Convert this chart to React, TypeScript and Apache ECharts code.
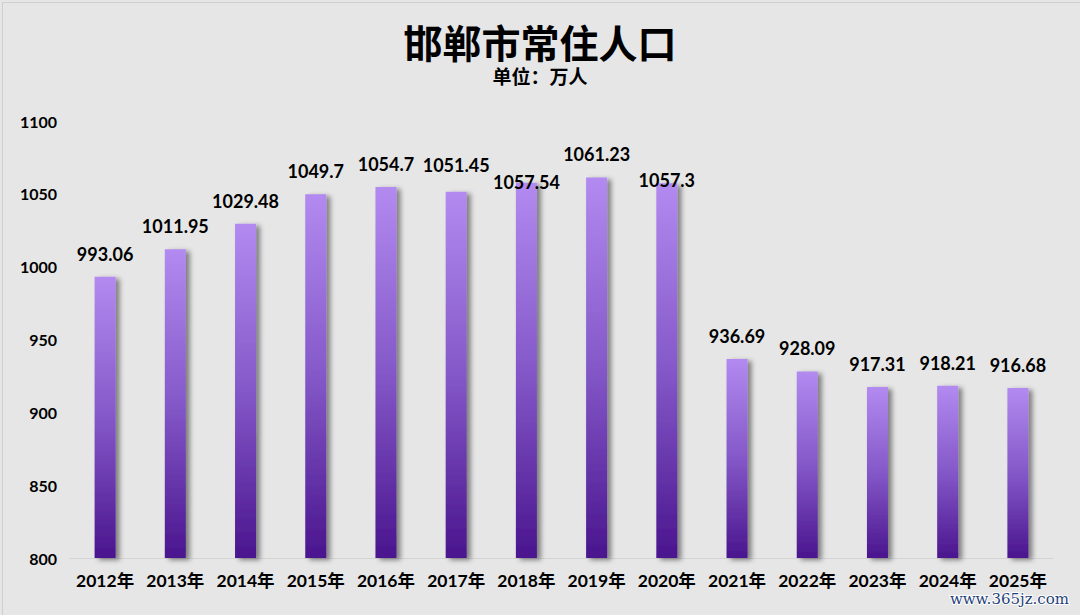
import React, { useEffect, useRef } from "react";
import * as echarts from "echarts";

const categories = ["2012年", "2013年", "2014年", "2015年", "2016年", "2017年", "2018年", "2019年", "2020年", "2021年", "2022年", "2023年", "2024年", "2025年"];
const values = [993.06, 1011.95, 1029.48, 1049.7, 1054.7, 1051.45, 1057.54, 1061.23, 1057.3, 936.69, 928.09, 917.31, 918.21, 916.68];
const labelTexts = ["993.06", "1011.95", "1029.48", "1049.7", "1054.7", "1051.45", "1057.54", "1061.23", "1057.3", "936.69", "928.09", "917.31", "918.21", "916.68"];
const labelOffsets = [0, 0, 0, 0, 0, -4, 22, 0, 20, 0, 0, 0, 0, 0];
const yTicks = [800, 850, 900, 950, 1000, 1050, 1100];
const titleText = "邯郸市常住人口";
const subtitleText = "单位：万人";
const watermark = "www.365jz.com";

const FONT = "Lato, 'Noto Sans CJK SC', sans-serif";

export default function App() {
  const ref = useRef<HTMLDivElement>(null);
  useEffect(() => {
    if (!ref.current) return;
    const chart = echarts.init(ref.current, null, { renderer: "svg" });
    const gradient = new echarts.graphic.LinearGradient(0, 0, 0, 1, [
      { offset: 0, color: "#b28af0" },
      { offset: 0.5, color: "#8458c8" },
      { offset: 1, color: "#4a158e" },
    ]);
    chart.setOption({
      animation: false,
      backgroundColor: "#e6e6e6",
      title: [
        {
          text: titleText,
          left: "center",
          top: 18,
          textStyle: { fontFamily: FONT, fontSize: 39, fontWeight: "bold", color: "#000" },
        },
        {
          text: subtitleText,
          left: "center",
          top: 62,
          textStyle: { fontFamily: FONT, fontSize: 19, fontWeight: "bold", color: "#000" },
        },
      ],
      grid: { left: 70, right: 27, top: 121, bottom: 57, containLabel: false },
      xAxis: {
        type: "category",
        data: categories,
        axisLine: { show: true, lineStyle: { color: "#d4d4d4", width: 1 } },
        axisTick: { show: false },
        axisLabel: {
          interval: 0,
          hideOverlap: false,
          fontFamily: FONT,
          fontSize: 17.5,
          fontWeight: "bold",
          color: "#000",
          margin: 14,
        },
      },
      yAxis: {
        type: "value",
        min: yTicks[0],
        max: yTicks[yTicks.length - 1],
        interval: 50,
        splitLine: { show: false },
        axisLine: { show: false },
        axisTick: { show: false },
        axisLabel: {
          fontFamily: FONT,
          fontSize: 16,
          fontWeight: "bold",
          color: "#000",
          margin: 13,
          formatter: (v: number) => String(v),
        },
      },
      series: [
        {
          type: "bar",
          barWidth: 21,
          data: values.map((v, i) => ({
            value: v,
            label: { offset: [0, labelOffsets[i]] },
          })),
          itemStyle: {
            color: gradient,
            shadowColor: "rgba(0,0,0,0.45)",
            shadowBlur: 5,
            shadowOffsetX: 4,
            shadowOffsetY: 2,
          },
          label: {
            show: true,
            position: "top",
            distance: 14,
            fontFamily: FONT,
            fontSize: 18,
            fontWeight: "bold",
            color: "#000",
            formatter: (p: any) => labelTexts[p.dataIndex],
          },
        },
      ],
      graphic: [
        {
          type: "rect",
          left: 0,
          top: 0,
          shape: { width: 1079, height: 614 },
          style: { fill: "none", stroke: "#cfcfcf", lineWidth: 1 },
          silent: true,
        },
        {
          type: "text",
          right: 10,
          bottom: 8,
          style: {
            text: watermark,
            fontFamily: "'DejaVu Serif', serif",
            fontSize: 15,
            fill: "#1f3f7a",
            stroke: "#ffffff",
            lineWidth: 2,
          },
        },
      ],
    });
    return () => chart.dispose();
  }, []);
  return <div ref={ref} style={{ position: "fixed", left: 0, top: 0, width: 1080, height: 615 }} />;
}
